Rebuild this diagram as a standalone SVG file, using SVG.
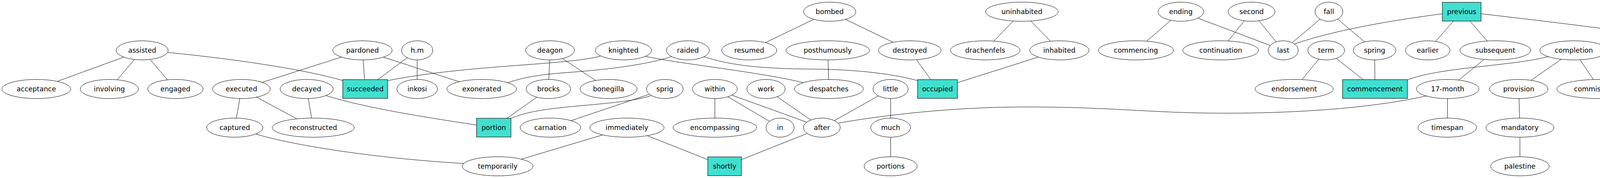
<svg xmlns="http://www.w3.org/2000/svg" width="6837" height="456" viewBox="0 0 6837 456">
<style>
.node ellipse{fill:#fff;stroke:#000;stroke-width:1}
.box rect{fill:#40e0d0;stroke:#333;stroke-width:1.5}
.node text{font-family:"DejaVu Sans","Liberation Sans",sans-serif;font-size:17.5px;text-anchor:middle;fill:#000}
#edges line,#edges path{stroke:#000;stroke-width:1;fill:none}
</style>
<rect width="6837" height="456" fill="#fff"/>
<g id="edges">
<line x1="364" y1="129" x2="93" y2="228"/>
<line x1="364" y1="129" x2="280" y2="228"/>
<line x1="364" y1="129" x2="449" y2="228"/>
<path d="M426,134 C520,143 760,170 890,210"/>
<line x1="928" y1="129" x2="618" y2="228"/>
<line x1="928" y1="129" x2="935" y2="228"/>
<line x1="928" y1="129" x2="1233" y2="228"/>
<line x1="1068" y1="129" x2="935" y2="228"/>
<line x1="1068" y1="129" x2="1068" y2="228"/>
<path d="M1540,143 C1450,168 1200,165 990,207"/>
<path d="M1650,144 C1750,165 1950,185 2062,213"/>
<path d="M1722,144 C1660,165 1560,178 1450,186 C1380,191 1330,200 1295,214"/>
<path d="M1798,144 C1870,168 1950,176 2080,177 C2200,178 2290,190 2355,208"/>
<line x1="1408" y1="129" x2="1404" y2="228"/>
<line x1="1408" y1="129" x2="1558" y2="228"/>
<line x1="618" y1="228" x2="601" y2="327"/>
<line x1="618" y1="228" x2="802" y2="327"/>
<line x1="785" y1="228" x2="802" y2="327"/>
<path d="M832,244 C920,272 1050,295 1225,321"/>
<path d="M654,343 C740,370 950,405 1190,419"/>
<line x1="1404" y1="228" x2="1264" y2="327"/>
<path d="M1670,244 C1580,275 1380,265 1303,306"/>
<line x1="1702" y1="228" x2="1409" y2="327"/>
<line x1="1605" y1="327" x2="1274" y2="426"/>
<line x1="1605" y1="327" x2="1855" y2="426"/>
<line x1="2124" y1="30" x2="1918" y2="129"/>
<line x1="2124" y1="30" x2="2329" y2="129"/>
<line x1="2119" y1="129" x2="2122" y2="228"/>
<line x1="1830" y1="228" x2="1830" y2="327"/>
<line x1="1830" y1="228" x2="1997" y2="327"/>
<line x1="1830" y1="228" x2="2104" y2="327"/>
<line x1="1961" y1="228" x2="2104" y2="327"/>
<line x1="2280" y1="228" x2="2104" y2="327"/>
<line x1="2280" y1="228" x2="2280" y2="327"/>
<line x1="2280" y1="327" x2="2280" y2="426"/>
<line x1="2104" y1="327" x2="1855" y2="426"/>
<path d="M2142,316 C2280,292 2450,274 2628,274 C2850,274 2950,290 3135,290 C3300,290 3500,280 3655,245"/>
<line x1="2329" y1="129" x2="2400" y2="228"/>
<line x1="2616" y1="30" x2="2522" y2="129"/>
<line x1="2616" y1="30" x2="2712" y2="129"/>
<line x1="2712" y1="129" x2="2400" y2="228"/>
<line x1="3023" y1="30" x2="2908" y2="129"/>
<line x1="3023" y1="30" x2="3285" y2="129"/>
<line x1="3204" y1="30" x2="3125" y2="129"/>
<line x1="3204" y1="30" x2="3285" y2="129"/>
<line x1="3402" y1="30" x2="3285" y2="129"/>
<line x1="3402" y1="30" x2="3519" y2="129"/>
<path d="M3695,35 C3580,50 3420,75 3310,114"/>
<line x1="3742" y1="30" x2="3655" y2="129"/>
<line x1="3742" y1="30" x2="3828" y2="129"/>
<path d="M3789,35 C3990,58 4250,90 4395,117"/>
<line x1="3395" y1="129" x2="3313" y2="228"/>
<line x1="3395" y1="129" x2="3520" y2="228"/>
<line x1="3519" y1="129" x2="3520" y2="228"/>
<path d="M3968,144 C3870,170 3680,172 3600,206"/>
<line x1="3828" y1="129" x2="3706" y2="228"/>
<line x1="4029" y1="129" x2="3888" y2="228"/>
<line x1="4029" y1="129" x2="4095" y2="228"/>
<line x1="3706" y1="228" x2="3705" y2="327"/>
<line x1="3888" y1="228" x2="3891" y2="327"/>
<line x1="3891" y1="327" x2="3891" y2="426"/>
<line x1="4250" y1="129" x2="4095" y2="228"/>
<line x1="4250" y1="129" x2="4290" y2="228"/>
<line x1="4445" y1="129" x2="4445" y2="228"/>
<line x1="4445" y1="129" x2="4583" y2="228"/>
<line x1="4445" y1="228" x2="4445" y2="327"/>
<line x1="4715" y1="129" x2="4583" y2="228"/>
<line x1="4715" y1="129" x2="4715" y2="228"/>
<line x1="4715" y1="129" x2="4882" y2="228"/>
<line x1="4715" y1="228" x2="4715" y2="327"/>
<line x1="5010" y1="129" x2="4882" y2="228"/>
<line x1="5010" y1="129" x2="5249" y2="228"/>
<line x1="5258" y1="129" x2="5077" y2="228"/>
<line x1="5258" y1="129" x2="5369" y2="228"/>
<line x1="5496" y1="129" x2="5249" y2="228"/>
<line x1="5496" y1="129" x2="5369" y2="228"/>
<line x1="5496" y1="129" x2="5498" y2="228"/>
<line x1="5496" y1="129" x2="5653" y2="228"/>
<line x1="5753" y1="30" x2="5496" y2="129"/>
<line x1="5753" y1="30" x2="6018" y2="129"/>
<line x1="5656" y1="129" x2="5653" y2="228"/>
<line x1="5656" y1="129" x2="5813" y2="228"/>
<line x1="5369" y1="228" x2="5369" y2="327"/>
<path d="M6128,36 C5990,52 5800,75 5710,110"/>
<line x1="6187" y1="30" x2="6186" y2="129"/>
<line x1="6187" y1="30" x2="6388" y2="129"/>
<line x1="5834" y1="129" x2="5813" y2="228"/>
<line x1="5834" y1="129" x2="5945" y2="228"/>
<line x1="5945" y1="228" x2="5945" y2="327"/>
<line x1="6018" y1="129" x2="6353" y2="228"/>
<line x1="6491" y1="30" x2="6388" y2="129"/>
<line x1="6491" y1="30" x2="6593" y2="129"/>
<path d="M6716,144 C6616,172 6515,196 6415,217"/>
<line x1="6755" y1="129" x2="6755" y2="228"/>
<line x1="6755" y1="228" x2="6755" y2="327"/>
<line x1="6353" y1="228" x2="6274" y2="327"/>
<line x1="6353" y1="228" x2="6430" y2="327"/>
<line x1="6274" y1="327" x2="6274" y2="426"/>
</g>
<g id="n-bombed" class="node"><ellipse cx="2124" cy="30" rx="67" ry="24.5"/><text x="2124" y="35.5">bombed</text></g>
<g id="n-uninhabited" class="node"><ellipse cx="2616" cy="30" rx="93" ry="24.5"/><text x="2616" y="35.5">uninhabited</text></g>
<g id="n-ending" class="node"><ellipse cx="3023" cy="30" rx="58.5" ry="24.5"/><text x="3023" y="35.5">ending</text></g>
<g id="n-second" class="node"><ellipse cx="3204" cy="30" rx="60" ry="24.5"/><text x="3204" y="35.5">second</text></g>
<g id="n-fall" class="node"><ellipse cx="3402" cy="30" rx="35.5" ry="24.5"/><text x="3402" y="35.5">fall</text></g>
<g id="n-previous" class="node box"><rect x="3692.5" y="6" width="99" height="48"/><text x="3742" y="35.5">previous</text></g>
<g id="n-established" class="node"><ellipse cx="5753" cy="30" rx="88" ry="24.5"/><text x="5753" y="35.5">established</text></g>
<g id="n-initially" class="node"><ellipse cx="6187" cy="30" rx="63" ry="24.5"/><text x="6187" y="35.5">initially</text></g>
<g id="n-proclaimed" class="node"><ellipse cx="6491" cy="30" rx="85.5" ry="24.5"/><text x="6491" y="35.5">proclaimed</text></g>
<g id="n-assisted" class="node"><ellipse cx="364" cy="129" rx="66.6" ry="24.5"/><text x="364" y="134.5">assisted</text></g>
<g id="n-pardoned" class="node"><ellipse cx="928" cy="129" rx="76" ry="24.5"/><text x="928" y="134.5">pardoned</text></g>
<g id="n-h-m" class="node"><ellipse cx="1068" cy="129" rx="40" ry="24.5"/><text x="1068" y="134.5">h.m</text></g>
<g id="n-deagon" class="node"><ellipse cx="1408" cy="129" rx="62.5" ry="24.5"/><text x="1408" y="134.5">deagon</text></g>
<g id="n-knighted" class="node"><ellipse cx="1596" cy="129" rx="72" ry="24.5"/><text x="1596" y="134.5">knighted</text></g>
<g id="n-raided" class="node"><ellipse cx="1761" cy="129" rx="55" ry="24.5"/><text x="1761" y="134.5">raided</text></g>
<g id="n-resumed" class="node"><ellipse cx="1918" cy="129" rx="70.6" ry="24.5"/><text x="1918" y="134.5">resumed</text></g>
<g id="n-posthumously" class="node"><ellipse cx="2119" cy="129" rx="107" ry="24.5"/><text x="2119" y="134.5">posthumously</text></g>
<g id="n-destroyed" class="node"><ellipse cx="2329" cy="129" rx="80" ry="24.5"/><text x="2329" y="134.5">destroyed</text></g>
<g id="n-drachenfels" class="node"><ellipse cx="2522" cy="129" rx="89" ry="24.5"/><text x="2522" y="134.5">drachenfels</text></g>
<g id="n-inhabited" class="node"><ellipse cx="2712" cy="129" rx="76" ry="24.5"/><text x="2712" y="134.5">inhabited</text></g>
<g id="n-commencing" class="node"><ellipse cx="2908" cy="129" rx="96" ry="24.5"/><text x="2908" y="134.5">commencing</text></g>
<g id="n-continuation" class="node"><ellipse cx="3125" cy="129" rx="97" ry="24.5"/><text x="3125" y="134.5">continuation</text></g>
<g id="n-last" class="node"><ellipse cx="3285" cy="129" rx="38.5" ry="24.5"/><text x="3285" y="134.5">last</text></g>
<g id="n-term" class="node"><ellipse cx="3395" cy="129" rx="47" ry="24.5"/><text x="3395" y="134.5">term</text></g>
<g id="n-spring" class="node"><ellipse cx="3519" cy="129" rx="54.5" ry="24.5"/><text x="3519" y="134.5">spring</text></g>
<g id="n-earlier" class="node"><ellipse cx="3655" cy="129" rx="57" ry="24.5"/><text x="3655" y="134.5">earlier</text></g>
<g id="n-subsequent" class="node"><ellipse cx="3828" cy="129" rx="90.6" ry="24.5"/><text x="3828" y="134.5">subsequent</text></g>
<g id="n-completion" class="node"><ellipse cx="4029" cy="129" rx="87" ry="24.5"/><text x="4029" y="134.5">completion</text></g>
<g id="n-program" class="node"><ellipse cx="4250" cy="129" rx="69" ry="24.5"/><text x="4250" y="134.5">program</text></g>
<g id="n-current" class="node"><ellipse cx="4445" cy="129" rx="64" ry="24.5"/><text x="4445" y="134.5">current</text></g>
<g id="n-covering" class="node"><ellipse cx="4715" cy="129" rx="70.6" ry="24.5"/><text x="4715" y="134.5">covering</text></g>
<g id="n-grebbeberg" class="node"><ellipse cx="5010" cy="129" rx="89" ry="24.5"/><text x="5010" y="134.5">grebbeberg</text></g>
<g id="n-formative" class="node"><ellipse cx="5258" cy="129" rx="77" ry="24.5"/><text x="5258" y="134.5">formative</text></g>
<g id="n-beginning" class="node"><ellipse cx="5496" cy="129" rx="79" ry="24.5"/><text x="5496" y="134.5">beginning</text></g>
<g id="n-previously" class="node box"><rect x="5598.5" y="105" width="115" height="48"/><text x="5656" y="134.5">previously</text></g>
<g id="n-concurrently" class="node"><ellipse cx="5834" cy="129" rx="97.7" ry="24.5"/><text x="5834" y="134.5">concurrently</text></g>
<g id="n-opened" class="node"><ellipse cx="6018" cy="129" rx="62.7" ry="24.5"/><text x="6018" y="134.5">opened</text></g>
<g id="n-thereafter" class="node"><ellipse cx="6186" cy="129" rx="81" ry="24.5"/><text x="6186" y="134.5">thereafter</text></g>
<g id="n-provisionally" class="node"><ellipse cx="6388" cy="129" rx="97.5" ry="24.5"/><text x="6388" y="134.5">provisionally</text></g>
<g id="n-dethroned" class="node"><ellipse cx="6593" cy="129" rx="83" ry="24.5"/><text x="6593" y="134.5">dethroned</text></g>
<g id="n-fennia" class="node"><ellipse cx="6755" cy="129" rx="55" ry="24.5"/><text x="6755" y="134.5">fennia</text></g>
<g id="n-acceptance" class="node"><ellipse cx="93" cy="228" rx="88" ry="24.5"/><text x="93" y="233.5">acceptance</text></g>
<g id="n-involving" class="node"><ellipse cx="280" cy="228" rx="74.5" ry="24.5"/><text x="280" y="233.5">involving</text></g>
<g id="n-engaged" class="node"><ellipse cx="449" cy="228" rx="71" ry="24.5"/><text x="449" y="233.5">engaged</text></g>
<g id="n-executed" class="node"><ellipse cx="618" cy="228" rx="74" ry="24.5"/><text x="618" y="233.5">executed</text></g>
<g id="n-decayed" class="node"><ellipse cx="785" cy="228" rx="68" ry="24.5"/><text x="785" y="233.5">decayed</text></g>
<g id="n-succeeded" class="node box"><rect x="877.5" y="204" width="115" height="48"/><text x="935" y="233.5">succeeded</text></g>
<g id="n-inkosi" class="node"><ellipse cx="1068" cy="228" rx="52" ry="24.5"/><text x="1068" y="233.5">inkosi</text></g>
<g id="n-exonerated" class="node"><ellipse cx="1233" cy="228" rx="89" ry="24.5"/><text x="1233" y="233.5">exonerated</text></g>
<g id="n-brocks" class="node"><ellipse cx="1404" cy="228" rx="57" ry="24.5"/><text x="1404" y="233.5">brocks</text></g>
<g id="n-bonegilla" class="node"><ellipse cx="1558" cy="228" rx="73" ry="24.5"/><text x="1558" y="233.5">bonegilla</text></g>
<g id="n-sprig" class="node"><ellipse cx="1702" cy="228" rx="47" ry="24.5"/><text x="1702" y="233.5">sprig</text></g>
<g id="n-within" class="node"><ellipse cx="1830" cy="228" rx="57.5" ry="24.5"/><text x="1830" y="233.5">within</text></g>
<g id="n-work" class="node"><ellipse cx="1961" cy="228" rx="49" ry="24.5"/><text x="1961" y="233.5">work</text></g>
<g id="n-despatches" class="node"><ellipse cx="2122" cy="228" rx="88" ry="24.5"/><text x="2122" y="233.5">despatches</text></g>
<g id="n-little" class="node"><ellipse cx="2280" cy="228" rx="45" ry="24.5"/><text x="2280" y="233.5">little</text></g>
<g id="n-occupied" class="node box"><rect x="2349" y="204" width="102" height="48"/><text x="2400" y="233.5">occupied</text></g>
<g id="n-endorsement" class="node"><ellipse cx="3313" cy="228" rx="100" ry="24.5"/><text x="3313" y="233.5">endorsement</text></g>
<g id="n-commencement" class="node box"><rect x="3437" y="204" width="166" height="48"/><text x="3520" y="233.5">commencement</text></g>
<g id="n-17-month" class="node"><ellipse cx="3706" cy="228" rx="80" ry="24.5"/><text x="3706" y="233.5">17-month</text></g>
<g id="n-provision" class="node"><ellipse cx="3888" cy="228" rx="75" ry="24.5"/><text x="3888" y="233.5">provision</text></g>
<g id="n-commissioning" class="node"><ellipse cx="4095" cy="228" rx="109.5" ry="24.5"/><text x="4095" y="233.5">commissioning</text></g>
<g id="n-section" class="node"><ellipse cx="4290" cy="228" rx="61" ry="24.5"/><text x="4290" y="233.5">section</text></g>
<g id="n-principal" class="node"><ellipse cx="4445" cy="228" rx="69" ry="24.5"/><text x="4445" y="233.5">principal</text></g>
<g id="n-csiac" class="node"><ellipse cx="4583" cy="228" rx="45.5" ry="24.5"/><text x="4583" y="233.5">csiac</text></g>
<g id="n-besides" class="node"><ellipse cx="4715" cy="228" rx="62.7" ry="24.5"/><text x="4715" y="233.5">besides</text></g>
<g id="n-occupying" class="node"><ellipse cx="4882" cy="228" rx="80" ry="24.5"/><text x="4882" y="233.5">occupying</text></g>
<g id="n-researching" class="node"><ellipse cx="5077" cy="228" rx="91" ry="24.5"/><text x="5077" y="233.5">researching</text></g>
<g id="n-outset" class="node"><ellipse cx="5249" cy="228" rx="57" ry="24.5"/><text x="5249" y="233.5">outset</text></g>
<g id="n-period" class="node box"><rect x="5330" y="204" width="78" height="48"/><text x="5369" y="233.5">period</text></g>
<g id="n-starting" class="node"><ellipse cx="5498" cy="228" rx="66.6" ry="24.5"/><text x="5498" y="233.5">starting</text></g>
<g id="n-already" class="node"><ellipse cx="5653" cy="228" rx="64" ry="24.5"/><text x="5653" y="233.5">already</text></g>
<g id="n-subsequently" class="node box"><rect x="5741" y="204" width="144" height="48"/><text x="5813" y="233.5">subsequently</text></g>
<g id="n-dej" class="node"><ellipse cx="5945" cy="228" rx="36" ry="24.5"/><text x="5945" y="233.5">dej</text></g>
<g id="n-commenced" class="node box"><rect x="6287.5" y="204" width="131" height="48"/><text x="6353" y="233.5">commenced</text></g>
<g id="n-holungen" class="node"><ellipse cx="6755" cy="228" rx="76" ry="24.5"/><text x="6755" y="233.5">holungen</text></g>
<g id="n-captured" class="node"><ellipse cx="601" cy="327" rx="72" ry="24.5"/><text x="601" y="332.5">captured</text></g>
<g id="n-reconstructed" class="node"><ellipse cx="802" cy="327" rx="105" ry="24.5"/><text x="802" y="332.5">reconstructed</text></g>
<g id="n-portion" class="node box"><rect x="1220" y="303" width="88" height="48"/><text x="1264" y="332.5">portion</text></g>
<g id="n-carnation" class="node"><ellipse cx="1409" cy="327" rx="77.5" ry="24.5"/><text x="1409" y="332.5">carnation</text></g>
<g id="n-immediately" class="node"><ellipse cx="1605" cy="327" rx="95" ry="24.5"/><text x="1605" y="332.5">immediately</text></g>
<g id="n-encompassing" class="node"><ellipse cx="1830" cy="327" rx="107" ry="24.5"/><text x="1830" y="332.5">encompassing</text></g>
<g id="n-in" class="node"><ellipse cx="1997" cy="327" rx="36" ry="24.5"/><text x="1997" y="332.5">in</text></g>
<g id="n-after" class="node"><ellipse cx="2104" cy="327" rx="47" ry="24.5"/><text x="2104" y="332.5">after</text></g>
<g id="n-much" class="node"><ellipse cx="2280" cy="327" rx="51" ry="24.5"/><text x="2280" y="332.5">much</text></g>
<g id="n-timespan" class="node"><ellipse cx="3705" cy="327" rx="75" ry="24.5"/><text x="3705" y="332.5">timespan</text></g>
<g id="n-mandatory" class="node"><ellipse cx="3891" cy="327" rx="87" ry="24.5"/><text x="3891" y="332.5">mandatory</text></g>
<g id="n-ewi" class="node"><ellipse cx="4445" cy="327" rx="38.7" ry="24.5"/><text x="4445" y="332.5">ewi</text></g>
<g id="n-also" class="node"><ellipse cx="4715" cy="327" rx="41.4" ry="24.5"/><text x="4715" y="332.5">also</text></g>
<g id="n-era" class="node"><ellipse cx="5369" cy="327" rx="36" ry="24.5"/><text x="5369" y="332.5">era</text></g>
<g id="n-segment" class="node"><ellipse cx="5945" cy="327" rx="71" ry="24.5"/><text x="5945" y="332.5">segment</text></g>
<g id="n-mid-1954" class="node"><ellipse cx="6274" cy="327" rx="77" ry="24.5"/><text x="6274" y="332.5">mid-1954</text></g>
<g id="n-began" class="node"><ellipse cx="6430" cy="327" rx="54.5" ry="24.5"/><text x="6430" y="332.5">began</text></g>
<g id="n-sometime" class="node"><ellipse cx="6755" cy="327" rx="77" ry="24.5"/><text x="6755" y="332.5">sometime</text></g>
<g id="n-temporarily" class="node"><ellipse cx="1274" cy="426" rx="90.6" ry="24.5"/><text x="1274" y="431.5">temporarily</text></g>
<g id="n-shortly" class="node box"><rect x="1812" y="402" width="86" height="48"/><text x="1855" y="431.5">shortly</text></g>
<g id="n-portions" class="node"><ellipse cx="2280" cy="426" rx="68" ry="24.5"/><text x="2280" y="431.5">portions</text></g>
<g id="n-palestine" class="node"><ellipse cx="3891" cy="426" rx="75" ry="24.5"/><text x="3891" y="431.5">palestine</text></g>
<g id="n-later" class="node"><ellipse cx="6274" cy="426" rx="45" ry="24.5"/><text x="6274" y="431.5">later</text></g>
</svg>
